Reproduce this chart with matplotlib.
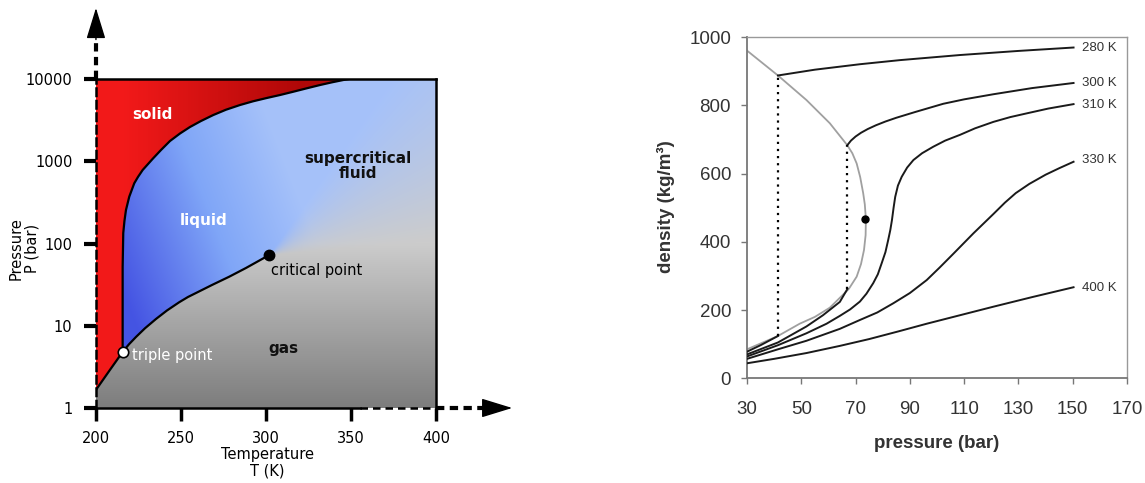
import numpy as np
import matplotlib
matplotlib.use('Agg')
import matplotlib.pyplot as plt
from matplotlib.patches import Polygon
from matplotlib.ticker import NullLocator

# ---------------- left: CO2 phase diagram ----------------
temp_ticks = [200, 250, 300, 350, 400]
pres_ticks = [1, 10, 100, 1000, 10000]
pres_labels = ['1', '10', '100', '1000', '10000']

# sublimation curve (T in K, P in bar)
subl_T = [200.0, 208.2, 215.7]
subl_P = [1.66, 2.9, 4.8]
# melting curve, triple point -> top of the chart
melt_T = [215.7, 215.7, 215.7, 216.06, 216.76, 217.65, 219.59, 222.53, 224.71,
          227.47, 233.53, 238.24, 243.53, 249.41, 255.29, 261.76, 269.0, 276.47,
          284.71, 292.35, 300.41, 308.24, 316.06, 323.94, 331.76, 338.82,
          345.47, 348.82]
melt_P = [4.8, 13.1, 51.8, 134, 188, 255, 371, 540, 644,
          783, 1080, 1370, 1763, 2175, 2609, 3086, 3650, 4234,
          4830, 5357, 5875, 6390, 7007, 7709, 8453, 9120,
          9727, 10000]
# vapour curve, triple point -> critical point
vap_T = [215.7, 219.41, 223.53, 228.82, 235.29, 241.76, 248.99, 254.12, 258.82,
         268.24, 278.41, 288.24, 298.06, 301.94]
vap_P = [4.8, 5.95, 7.30, 9.31, 12.08, 15.33, 19.33, 22.37, 25.01,
         31.3, 39.5, 50.4, 65.4, 72.5]
triple_pt = (215.7, 4.8)
critical_pt = (301.94, 72.5)

# ---------------- right: isotherms ----------------
press_ticks = [30, 50, 70, 90, 110, 130, 150, 170]
dens_ticks = [0, 200, 400, 600, 800, 1000]

coex_p = [30, 41.4, 51.9, 60.5, 66.9, 68.8, 70.4, 71.7, 72.8, 73.4, 73.8, 73.7,
          73.1, 72.0, 70.4, 67.5, 64.2, 60.5, 55, 49.4, 41.4, 30]
coex_rho = [961, 888, 816, 748, 684, 660, 630, 590, 543, 510, 467, 420,
            376, 335, 298, 262, 236, 207, 180, 160, 124, 85]

iso_280_gas_p = [30, 35, 41.4]
iso_280_gas_rho = [78, 97, 124]
iso_280_liq_p = [41.4, 55, 71.6, 86.3, 108.5, 130, 150.3]
iso_280_liq_rho = [888, 905, 921, 933, 948, 960, 970]

iso_300_gas_p = [30, 41.4, 51.9, 58, 64.2, 67]
iso_300_gas_rho = [70, 105, 152, 185, 224, 262]
iso_300_liq_p = [67, 68.3, 70, 72, 74.5, 77.5, 81, 85, 92, 102.3, 110, 120.8,
                 135, 150.3]
iso_300_liq_rho = [684, 697, 709, 720, 731, 742, 753, 764, 781, 805, 818, 833,
                   851, 866]

iso_310_p = [30, 41.4, 51.9, 59.3, 64.2, 68, 71.6, 74, 76.5, 78.2, 79.6, 81, 82,
             82.8, 83.4, 84, 84.6, 85.6, 87, 89, 91.3, 94.5, 98.6, 103, 108.5,
             114, 120.8, 127, 133.1, 141, 150.3]
iso_310_rho = [64, 97, 132, 160, 183, 202, 225, 248, 279, 305, 337, 370, 405,
               435, 464, 500, 532, 565, 591, 618, 640, 660, 679, 697, 714,
               733, 752, 766, 777, 791, 804]

iso_330_p = [30, 41.4, 51.9, 64.2, 71.6, 78, 83.9, 90, 96.2, 101, 106, 113.4,
             120.8, 125, 129, 134, 140, 145, 150.3]
iso_330_rho = [57, 85, 110, 145, 171, 193, 220, 250, 288, 325, 365, 425,
               482, 515, 543, 570, 597, 616, 635]

iso_400_p = [30, 40, 51.9, 64.2, 75, 86, 96.2, 108.5, 120.8, 135, 150.3]
iso_400_rho = [44, 57, 74, 95, 115, 138, 160, 185, 210, 238, 267]

iso_labels = ['280 K', '300 K', '310 K', '330 K', '400 K']
iso_label_rho = [968, 866, 800, 640, 266]
tie_p = [41.4, 67]
tie_lo = [124, 262]
tie_hi = [888, 684]
crit_dot = (73.4, 467)

plt.rcParams['font.family'] = 'DejaVu Sans'
fig = plt.figure(figsize=(11.45, 4.83), dpi=100)

# ======== left panel ========
ax = fig.add_axes([0.0838, 0.1553, 0.297, 0.6811])
ax.set_xlim(200, 400)
ax.set_yscale('log')
ax.set_ylim(1, 10000)

# background colours, computed in axes fractions
n = 400
U, V = np.meshgrid(np.linspace(0, 1, n), np.linspace(0, 1, n))
t = np.clip(1.6 * (U - 0.1) + 0.6 * (V - 0.3), 0, 1)
blue = np.stack([np.interp(t, [0, 0.55, 1], [0.27, 0.50, 0.65]),
                 np.interp(t, [0, 0.55, 1], [0.33, 0.65, 0.76]),
                 np.interp(t, [0, 0.55, 1], [0.89, 0.97, 0.98])], axis=-1)
gray = 0.49 + 0.31 * np.clip(V / 0.5, 0, 1)
uc = (critical_pt[0] - 200) / 200
vc = np.log10(critical_pt[1]) / 4
du = (U - uc) * 340
dv = (V - vc) * 329
theta = np.degrees(np.arctan2(dv, du))
A = np.clip((55 - theta) / 50, 0, 1)
A[(dv < 0) & (du >= 0)] = 1
A[(dv < 0) & (du < 0)] = 0
A = A[..., None]
base = (1 - A) * blue + A * gray[..., None]
ax.imshow(base, extent=(0, 1, 0, 1), transform=ax.transAxes, origin='lower',
          aspect='auto', zorder=0, interpolation='bilinear')

# gas region (runs out to the right edge below the critical point)
gas_img = np.repeat(gray[..., None], 3, axis=-1)
gas_poly = Polygon(list(zip([200] + subl_T + vap_T[1:] + [405, 405],
                            [1] + subl_P + vap_P[1:] + [critical_pt[1], 0.9])),
                   closed=True, transform=ax.transData)
im = ax.imshow(gas_img, extent=(0, 1, 0, 1), transform=ax.transAxes,
               origin='lower', aspect='auto', zorder=1)
im.set_clip_path(gas_poly)

# solid region
red = np.stack([np.interp(U, [0.08, 0.6, 0.8], [0.95, 0.69, 0.72]),
                np.interp(U, [0.08, 0.6, 0.8], [0.10, 0.03, 0.05]),
                np.interp(U, [0.08, 0.6, 0.8], [0.10, 0.03, 0.05])], axis=-1)
solid_poly = Polygon(list(zip([200, 200] + melt_T[::-1][:-1] + subl_T[::-1],
                              [subl_P[0], 10000] + melt_P[::-1][:-1] + subl_P[::-1])),
                     closed=True, transform=ax.transData)
im = ax.imshow(red, extent=(0, 1, 0, 1), transform=ax.transAxes,
               origin='lower', aspect='auto', zorder=2)
im.set_clip_path(solid_poly)
ax.set_xlim(200, 400)
ax.set_ylim(1, 10000)

ax.plot(subl_T, subl_P, color='black', lw=1.6, zorder=3)
ax.plot(melt_T, melt_P, color='black', lw=1.6, zorder=3)
ax.plot(vap_T, vap_P, color='black', lw=1.6, zorder=3)
ax.plot(*triple_pt, 'o', ms=7.5, mfc='white', mec='black', mew=1.2, zorder=4)
ax.plot(*critical_pt, 'o', ms=7.5, color='black', zorder=4)

ax.text(233.1, 3750, 'solid', color='white', fontsize=11, fontweight='bold',
        ha='center', va='center', zorder=5)
ax.text(263.4, 189, 'liquid', color='white', fontsize=11, fontweight='bold',
        ha='center', va='center', zorder=5)
ax.text(354.3, 875, 'supercritical\nfluid', color='#111111', fontsize=11,
        fontweight='bold', ha='center', va='center', linespacing=1.05, zorder=5)
ax.text(310.1, 5.3, 'gas', color='#111111', fontsize=11, fontweight='bold',
        ha='center', va='center', zorder=5)
ax.text(302.8, 46.7, 'critical point', color='black', fontsize=10.5,
        ha='left', va='center', zorder=5)
ax.text(221.2, 4.32, 'triple point', color='white', fontsize=10.5,
        ha='left', va='center', zorder=5)

ax.set_xticks(temp_ticks)
ax.set_yticks(pres_ticks)
ax.set_yticklabels(pres_labels)
ax.yaxis.set_minor_locator(NullLocator())
ax.tick_params(axis='y', length=9, width=3, pad=8, labelsize=10.5)
ax.tick_params(axis='x', length=9.5, width=2.5, pad=7, labelsize=10.5)
for side in ['top', 'right', 'bottom', 'left']:
    ax.spines[side].set_linewidth(1.8)
    ax.spines[side].set_zorder(6)
ax.spines['left'].set_linestyle((0, (3, 2)))
ax.spines['bottom'].set_bounds(200, 355)
ax.plot([355, 400], [1, 1], color='black', lw=1.8, ls=(0, (3, 2)),
        clip_on=False, zorder=6)

# dashed axis arrows
dash = dict(color='black', lw=3, ls=(0, (2, 1.3)), clip_on=False,
            transform=ax.transAxes, zorder=6)
ax.plot([0, 0], [1.0, 1.14], **dash)
ax.plot([1.0, 1.155], [0, 0], **dash)
head = dict(arrowstyle='-|>,head_length=1.3,head_width=0.4', mutation_scale=15,
            lw=1, color='black', shrinkA=0, shrinkB=0)
ax.annotate('', xy=(0, 1.216), xytext=(0, 1.12), xycoords='axes fraction',
            textcoords='axes fraction', arrowprops=head, annotation_clip=False)
ax.annotate('', xy=(1.224, 0), xytext=(1.13, 0), xycoords='axes fraction',
            textcoords='axes fraction', arrowprops=head, annotation_clip=False)

ax.text(0.503, -0.118, 'Temperature\nT (K)', transform=ax.transAxes,
        ha='center', va='top', fontsize=10.5, linespacing=1.1)
ax.text(-0.212, 0.486, 'Pressure\nP (bar)', transform=ax.transAxes,
        ha='center', va='center', rotation=90, fontsize=10.5, linespacing=1.1)

# ======== right panel ========
ax2 = fig.add_axes([0.6524, 0.2168, 0.3319, 0.7060])
ax2.set_xlim(30, 170)
ax2.set_ylim(0, 1000)

ax2.plot(coex_p, coex_rho, color='#a0a0a0', lw=1.3, zorder=2)
iso_color = '#1a1a1a'
for p, rho in [(iso_280_gas_p, iso_280_gas_rho), (iso_280_liq_p, iso_280_liq_rho),
               (iso_300_gas_p, iso_300_gas_rho), (iso_300_liq_p, iso_300_liq_rho),
               (iso_310_p, iso_310_rho), (iso_330_p, iso_330_rho),
               (iso_400_p, iso_400_rho)]:
    ax2.plot(p, rho, color=iso_color, lw=1.4, zorder=3)
for x, lo, hi in zip(tie_p, tie_lo, tie_hi):
    ax2.plot([x, x], [lo, hi], color='black', lw=1.6, ls=(0, (1, 2.2)), zorder=3)
ax2.plot(*crit_dot, 'o', color='black', ms=5, zorder=4)

for lab, r in zip(iso_labels, iso_label_rho):
    ax2.text(153.5, r, lab, fontsize=9.5, color='#333333', ha='left',
             va='center', family='Liberation Sans')

ax2.set_xticks(press_ticks)
ax2.set_yticks(dens_ticks)
ax2.tick_params(direction='out', length=4.5, width=1, color='#777777',
                labelsize=13.5, labelcolor='#333333')
ax2.tick_params(axis='x', pad=12)
ax2.tick_params(axis='y', pad=7)
for lbl in ax2.get_xticklabels() + ax2.get_yticklabels():
    lbl.set_family('Liberation Sans')
for side in ['left', 'bottom']:
    ax2.spines[side].set_color('#777777')
    ax2.spines[side].set_linewidth(1.3)
for side in ['top', 'right']:
    ax2.spines[side].set_color('#999999')
    ax2.spines[side].set_linewidth(1.0)

ax2.text(0.5, -0.19, 'pressure (bar)', transform=ax2.transAxes, ha='center',
         va='center', fontsize=13.5, fontweight='bold', color='#333333',
         family='Liberation Sans')
ax2.text(-0.212, 0.502, 'density (kg/m³)', transform=ax2.transAxes,
         ha='center', va='center', rotation=90, fontsize=13.5,
         fontweight='bold', color='#333333', family='Liberation Sans')

fig.savefig('out.png', dpi=100, facecolor='white')
